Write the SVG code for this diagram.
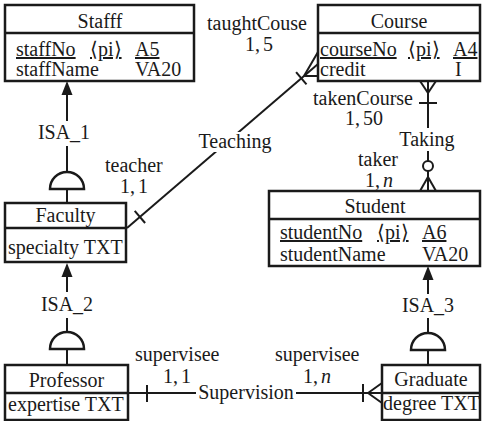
<svg xmlns="http://www.w3.org/2000/svg" width="482" height="421" viewBox="0 0 482 421">
<style>
text{font-family:"Liberation Serif","Times New Roman",serif;font-size:20px;fill:#1a1a1a}
.box{fill:#fff;stroke:#1a1a1a;stroke-width:2.5}
.sep{stroke:#1a1a1a;stroke-width:2.5}
.ln{stroke:#1a1a1a;stroke-width:2;fill:none}
.dome{fill:#fff;stroke:#1a1a1a;stroke-width:2.5}
.ah{fill:#1a1a1a}
.mid{text-anchor:middle}
.end{text-anchor:end}
.u{text-decoration:underline}
.bg{fill:#fff}
.it{font-style:italic}
</style>
<rect width="482" height="421" fill="#fff"/>
<g id="connectors">
  <g id="Teaching">
    <line class="ln" x1="127" y1="228" x2="318" y2="64"/>
    <line class="ln" x1="304" y1="76" x2="318" y2="52"/>
    <line class="ln" x1="304" y1="76" x2="318" y2="76"/>
    <line class="ln" x1="134.7" y1="210.8" x2="145.1" y2="223"/>
    <line class="ln" x1="296.1" y1="72.2" x2="306.5" y2="84.4"/>
    <rect class="bg" x="196" y="132" width="78" height="20"/>
    <text class="mid" x="235" y="148">Teaching</text>
    <text x="105" y="172">teacher</text>
    <text x="120" y="193">1,<tspan dx="3">1</tspan></text>
    <text x="207" y="30">taughtCouse</text>
    <text x="245" y="51">1,<tspan dx="3">5</tspan></text>
  </g>
  <g id="Taking">
    <line class="ln" x1="420" y1="81" x2="428" y2="93"/>
    <line class="ln" x1="436" y1="81" x2="428" y2="93"/>
    <line class="ln" x1="428" y1="81" x2="428" y2="128"/>
    <line class="ln" x1="419" y1="103" x2="437" y2="103"/>
    <text class="mid" x="427" y="146">Taking</text>
    <line class="ln" x1="428" y1="151" x2="428" y2="161"/>
    <circle class="ln" cx="428" cy="166" r="5"/>
    <line class="ln" x1="428" y1="171" x2="428" y2="191"/>
    <line class="ln" x1="428" y1="177" x2="420" y2="191"/>
    <line class="ln" x1="428" y1="177" x2="436" y2="191"/>
    <text class="end" x="413" y="105">takenCourse</text>
    <text x="345" y="125">1,<tspan dx="3">50</tspan></text>
    <text x="358" y="166">taker</text>
    <text x="365" y="187">1,<tspan dx="3" class="it">n</tspan></text>
  </g>
  <g id="Supervision">
    <line class="ln" x1="128" y1="393" x2="382" y2="393"/>
    <line class="ln" x1="147" y1="385" x2="147" y2="402"/>
    <line class="ln" x1="368" y1="393" x2="382" y2="383"/>
    <line class="ln" x1="368" y1="393" x2="382" y2="403"/>
    <line class="ln" x1="363" y1="384" x2="363" y2="402"/>
    <rect class="bg" x="196" y="381" width="100" height="22"/>
    <text class="mid" x="246" y="399">Supervision</text>
    <text x="135" y="361">supervisee</text>
    <text x="163" y="383">1,<tspan dx="3">1</tspan></text>
    <text x="275" y="361">supervisee</text>
    <text x="303" y="383">1,<tspan dx="3" class="it">n</tspan></text>
  </g>
  <g id="ISA_1">
    <polygon class="ah" points="67,81 61.5,95 72.5,95"/>
    <line class="ln" x1="67" y1="95" x2="67" y2="121"/>
    <text class="mid" x="64" y="139">ISA_1</text>
    <line class="ln" x1="67" y1="146" x2="67" y2="172"/>
    <path class="dome" d="M50,189 A17,17 0 0 1 84,189 Z"/>
    <line class="ln" x1="67" y1="189" x2="67" y2="203"/>
  </g>
  <g id="ISA_2">
    <polygon class="ah" points="67,263 61.5,277 72.5,277"/>
    <line class="ln" x1="67" y1="277" x2="67" y2="292"/>
    <text class="mid" x="67" y="311">ISA_2</text>
    <line class="ln" x1="67" y1="318" x2="67" y2="332"/>
    <path class="dome" d="M50,349 A17,17 0 0 1 84,349 Z"/>
    <line class="ln" x1="67" y1="349" x2="67" y2="365"/>
  </g>
  <g id="ISA_3">
    <polygon class="ah" points="428,266 422.5,280 433.5,280"/>
    <line class="ln" x1="428" y1="280" x2="428" y2="294"/>
    <text class="mid" x="428" y="312">ISA_3</text>
    <line class="ln" x1="428" y1="318" x2="428" y2="333"/>
    <path class="dome" d="M411,350 A17,17 0 0 1 445,350 Z"/>
    <line class="ln" x1="428" y1="350" x2="428" y2="365"/>
  </g>
</g>
<g id="Stafff">
  <rect class="box" x="5" y="5" width="189" height="76"/>
  <line class="sep" x1="5" y1="33" x2="194" y2="33"/>
  <text class="mid" x="100" y="28">Stafff</text>
  <text class="u" x="16" y="56">staffNo</text>
  <text class="u" x="90" y="56">⟨pi⟩</text>
  <text class="u" x="135" y="56">A5</text>
  <text x="16" y="76">staffName</text>
  <text x="135" y="76">VA20</text>
</g>
<g id="Course">
  <rect class="box" x="318" y="5" width="162" height="76"/>
  <line class="sep" x1="318" y1="33" x2="480" y2="33"/>
  <text class="mid" x="399" y="28">Course</text>
  <text class="u" x="320" y="56">courseNo</text>
  <text class="u" x="408" y="56">⟨pi⟩</text>
  <text class="u" x="453" y="56">A4</text>
  <text x="320" y="76">credit</text>
  <text x="455" y="76">I</text>
</g>
<g id="Student">
  <rect class="box" x="269" y="191" width="211" height="75"/>
  <line class="sep" x1="269" y1="219" x2="480" y2="219"/>
  <text class="mid" x="375" y="213">Student</text>
  <text class="u" x="280" y="239">studentNo</text>
  <text class="u" x="377" y="239">⟨pi⟩</text>
  <text class="u" x="422" y="239">A6</text>
  <text x="280" y="261">studentName</text>
  <text x="422" y="261">VA20</text>
</g>
<g id="Faculty">
  <rect class="box" x="5" y="203" width="121" height="59"/>
  <line class="sep" x1="5" y1="228" x2="126" y2="228"/>
  <text class="mid" x="65.5" y="222">Faculty</text>
  <text x="8" y="254">specialty TXT</text>
</g>
<g id="Professor">
  <rect class="box" x="5" y="365" width="123" height="55"/>
  <line class="sep" x1="5" y1="393" x2="128" y2="393"/>
  <text class="mid" x="66.5" y="387">Professor</text>
  <text x="8" y="411">expertise TXT</text>
</g>
<g id="Graduate">
  <rect class="box" x="382" y="365" width="98" height="55"/>
  <line class="sep" x1="382" y1="393" x2="480" y2="393"/>
  <text class="mid" x="431" y="386">Graduate</text>
  <text x="383" y="410">degree TXT</text>
</g>
</svg>
